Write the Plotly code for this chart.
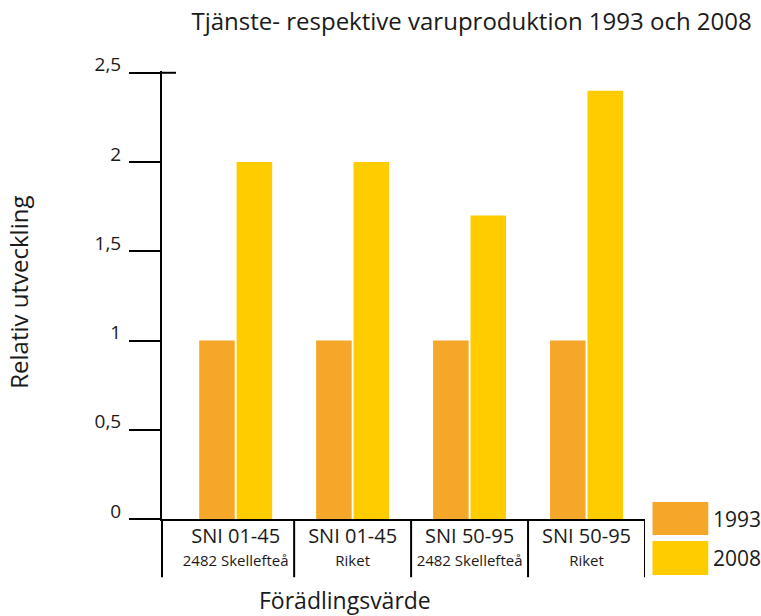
import plotly.graph_objects as go

# ---- data ----
sectors = ["SNI 01-45", "SNI 01-45", "SNI 50-95", "SNI 50-95"]
regions = ["2482 Skellefteå", "Riket", "2482 Skellefteå", "Riket"]
series_names = ["1993", "2008"]
values_1993 = [1.0, 1.0, 1.0, 1.0]
values_2008 = [2.0, 2.0, 1.7, 2.4]
y_tickvals = [0, 0.5, 1, 1.5, 2, 2.5]
y_ticktext = ["0", "0,5", "1", "1,5", "2", "2,5"]

title_text = "Tjänste- respektive varuproduktion 1993 och 2008"
y_title = "Relativ utveckling"
x_title = "Förädlingsvärde"

colors = ["#F5A729", "#FFCC00"]
FONT = "Open Sans"
TXT = "#1a1a1a"

categories = [f"<span style='font-size:20px'>{s}</span><br><span style='font-size:15px'>{r}</span>"
              for s, r in zip(sectors, regions)]
x_idx = list(range(len(categories)))

fig = go.Figure()
for name, vals, col in zip(series_names, [values_1993, values_2008], colors):
    fig.add_trace(go.Bar(x=x_idx, y=vals, name=name, marker=dict(color=col, line=dict(width=0)),
                         showlegend=False))

shapes = []
# category separators below the axis
sep_positions = [i + 0.5 for i in x_idx]
for xs in sep_positions:
    shapes.append(dict(type="line", xref="x", yref="paper", x0=xs, x1=xs, y0=0, y1=-0.13,
                       line=dict(color="black", width=2)))
shapes.append(dict(type="line", xref="x domain", yref="paper", x0=0, x1=0, y0=0, y1=-0.13,
                   line=dict(color="black", width=2)))
# top tick crossing the axis
shapes.append(dict(type="line", xref="x domain", yref="y", x0=0, x1=0.029, y0=y_tickvals[-1], y1=y_tickvals[-1],
                   line=dict(color="black", width=2)))

# custom legend (large swatches)
annotations = []
leg_y = [(0.0379, -0.0357), (-0.0491, -0.125)]
for (y1, y0), col, name in zip(leg_y, colors, series_names):
    shapes.append(dict(type="rect", xref="paper", yref="paper", x0=1.0155, x1=1.131, y0=y0, y1=y1,
                       fillcolor=col, line=dict(width=0)))
    annotations.append(dict(xref="paper", yref="paper", x=1.137, y=(y0 + y1) / 2, text=name,
                            showarrow=False, xanchor="left", yanchor="middle",
                            font=dict(family=FONT, size=21, color=TXT)))

annotations.append(dict(xref="paper", yref="paper", x=0.378, y=-0.181, text=x_title, showarrow=False,
                        xanchor="center", yanchor="middle", font=dict(family=FONT, size=23, color=TXT)))
annotations.append(dict(xref="paper", yref="paper", x=-0.296, y=0.505, text=y_title, showarrow=False,
                        textangle=-90, xanchor="center", yanchor="middle",
                        font=dict(family=FONT, size=24, color=TXT)))

fig.update_layout(
    width=761, height=616,
    margin=dict(l=162, r=115.5, t=71, b=97),
    paper_bgcolor="white", plot_bgcolor="white",
    font=dict(family=FONT, color=TXT),
    title=dict(text=title_text, x=0.641, xref="paper", xanchor="center", y=1 - 22 / 616, yref="container",
               yanchor="middle", font=dict(family=FONT, size=24, color=TXT)),
    barmode="group", bargap=0.36, bargroupgap=0.05,
    shapes=shapes, annotations=annotations,
    xaxis=dict(range=[-0.63, 3.5], tickmode="array", tickvals=x_idx, ticktext=categories,
               showline=True, linecolor="black", linewidth=2, ticks="", showgrid=False, zeroline=False,
               tickfont=dict(family=FONT, size=18, color=TXT), automargin=False),
    yaxis=dict(range=[0, 2.51], tickmode="array", tickvals=y_tickvals, ticktext=y_ticktext,
               showline=True, linecolor="black", linewidth=2, ticks="outside", ticklen=31, tickwidth=2,
               tickcolor="black", showgrid=False, zeroline=False, ticklabelshift=-8, ticklabelstandoff=4,
               tickfont=dict(family=FONT, size=19, color=TXT), automargin=False),
)

# remove the default page margin so the figure fills the window exactly
fig.write_html("out.html", config={"displayModeBar": False},
               post_script="document.body.style.margin='0';")
